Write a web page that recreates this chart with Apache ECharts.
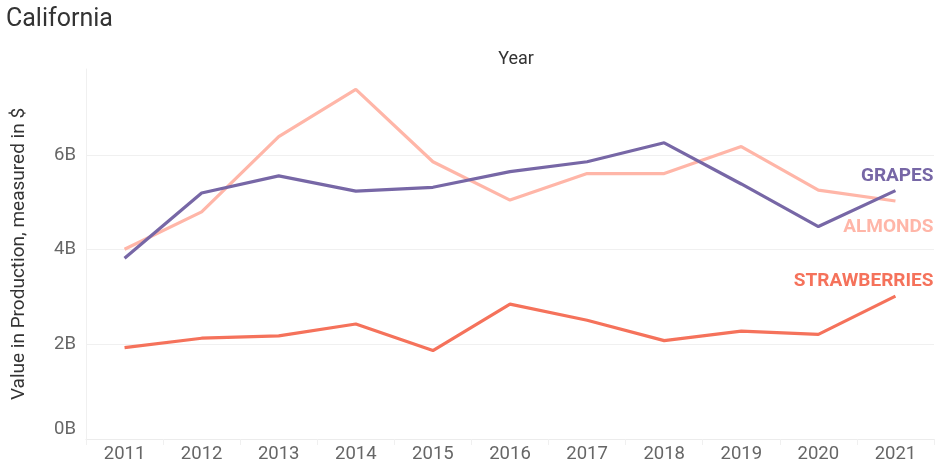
<!DOCTYPE html>
<html>
<head>
<meta charset="utf-8">
<script src="https://cdn.jsdelivr.net/npm/echarts@6/dist/echarts.min.js"></script>
<style>html,body{margin:0;padding:0;background:#fff;}#chart{width:950px;height:470px;}</style>
</head>
<body>
<div id="chart"></div>
<script>
const years = ['2011','2012','2013','2014','2015','2016','2017','2018','2019','2020','2021'];
const grapes = [3.82, 5.20, 5.56, 5.24, 5.32, 5.65, 5.86, 6.26, 5.39, 4.49, 5.25];
const almonds = [4.01, 4.80, 6.39, 7.39, 5.86, 5.05, 5.61, 5.61, 6.18, 5.26, 5.03];
const strawberries = [1.93, 2.13, 2.18, 2.43, 1.87, 2.85, 2.51, 2.08, 2.28, 2.21, 3.02];
const yTicks = [0, 2, 4, 6];

const FONT = 'Roboto';
function withEndLabel(values, name, color, dy) {
  return values.map((v, i) => i === values.length - 1 ? {
    value: v,
    label: {
      show: true, formatter: name, position: 'inside', align: 'right', verticalAlign: 'middle',
      offset: [38, dy], color: color, fontFamily: FONT, fontWeight: 'bold', fontSize: 19
    }
  } : v);
}
function lineSeries(name, values, color, dy) {
  return {
    name: name, type: 'line', data: withEndLabel(values, name.toUpperCase(), color, dy),
    symbol: 'circle', symbolSize: 0.1, showSymbol: true,
    lineStyle: { color: color, width: 3.2 }, itemStyle: { color: color },
    label: { show: false }, emphasis: { disabled: true }, z: 3
  };
}
const chart = echarts.init(document.getElementById('chart'));
chart.setOption({
  animation: false,
  title: [
    { text: 'California', left: 1, top: 2, textStyle: { fontFamily: FONT, fontSize: 25, fontWeight: 'normal', color: '#333' } },
    { text: 'Year', left: 511, top: 45, textAlign: 'center', textStyle: { fontFamily: FONT, fontSize: 18, fontWeight: 'normal', color: '#333' } }
  ],
  grid: { left: 86, right: 16, top: 69, bottom: 31 },
  xAxis: {
    type: 'category', data: years, boundaryGap: true,
    axisLine: { show: true, lineStyle: { color: '#ececec' } },
    axisTick: { show: true, length: 6, lineStyle: { color: '#f0f0f0' } },
    axisLabel: { color: '#666', fontFamily: FONT, fontSize: 18.5, margin: 6 }
  },
  yAxis: {
    type: 'value', min: 0, max: 7.82, interval: 2,
    name: 'Value in Production, measured in $', nameLocation: 'middle', nameGap: 57,
    nameTextStyle: { fontFamily: FONT, fontSize: 19, color: '#333' },
    axisLine: { show: true, lineStyle: { color: '#f0f0f0' } },
    axisTick: { show: false },
    splitLine: { show: true, showMaxLine: false, showMinLine: false, lineStyle: { color: '#f0f0f0' } },
    axisLabel: {
      color: '#666', fontFamily: FONT, fontSize: 18.5, margin: 10, showMaxLabel: false,
      verticalAlignMinLabel: 'bottom',
      formatter: v => (yTicks.indexOf(v) >= 0 ? v + 'B' : '')
    }
  },
  series: [
    lineSeries('Almonds', almonds, '#ffb6a8', 26),
    lineSeries('Strawberries', strawberries, '#f5725b', -15),
    lineSeries('Grapes', grapes, '#7767a6', -14.5)
  ]
});
</script>
</body>
</html>
